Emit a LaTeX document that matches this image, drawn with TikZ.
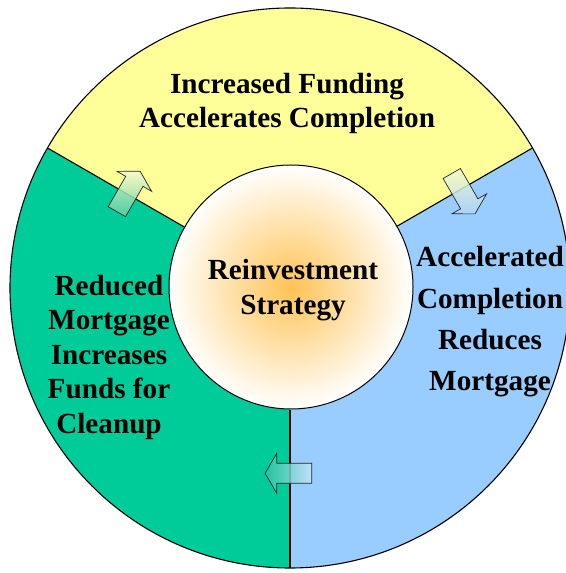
\documentclass[tikz,border=0pt]{standalone}
\usepackage{fontspec}
\setmainfont{Liberation Serif}
\definecolor{yellowsec}{RGB}{255,255,153}
\definecolor{bluesec}{RGB}{153,204,255}
\definecolor{greensec}{RGB}{0,204,153}
\definecolor{hubglow}{RGB}{255,195,85}
\definecolor{agreen}{RGB}{90,205,160}
\definecolor{ayellow}{RGB}{246,250,205}
\definecolor{ablue}{RGB}{175,212,246}
\definecolor{ateal}{RGB}{40,195,160}
\definecolor{apale}{RGB}{200,228,250}
\newcommand\flowarrow[3]{%
  \shade[flow, #3, shift={#1}, rotate=#2]
    (-23.3,-10) -- (11.7,-10) -- (11.7,-20) -- (23.3,0) -- (11.7,20) -- (11.7,10) -- (-23.3,10) -- cycle;}
\begin{document}
\begin{tikzpicture}[x=1pt,y=1pt,
  lbl/.style={font=\bfseries\fontsize{29.2}{34}\selectfont, anchor=base, inner sep=0pt},
  ring/.style={draw=black, line width=1.1pt},
  flow/.style={draw=black!85, line width=0.7pt, fill opacity=0.85}]
\useasboundingbox (0,0) rectangle (565,573);
\coordinate (C) at (290,285);
% sectors
\fill[yellowsec] (C) -- ++(30:280) arc[start angle=30,end angle=150,radius=280] -- cycle;
\fill[bluesec] (C) -- ++(-90:280) arc[start angle=-90,end angle=30,radius=280] -- cycle;
\fill[greensec] (C) -- ++(150:280) arc[start angle=150,end angle=270,radius=280] -- cycle;
\draw[ring] (C) circle[radius=280];
\foreach \a in {30,150,270} \draw[ring] (C) ++(\a:122) -- ++(\a:158);
% hub
\node[circle, draw=black, line width=1pt, minimum size=244pt, inner sep=0pt,
      inner color=hubglow, outer color=white] (hub) at (291,286) {};
% arrows
\flowarrow{(128.5,381.5)}{60}{bottom color=agreen, top color=ayellow}
\flowarrow{(463.4,379.3)}{-60}{top color=ayellow, bottom color=ablue}
\flowarrow{(288.4,99.7)}{180}{left color=ateal, right color=apale}
% texts
\node[lbl] (t1) at (287,479) {Increased Funding};
\node[lbl] (t2) at (287,445) {Accelerates Completion};
\node[lbl] (c1) at (293,293) {Reinvestment};
\node[lbl] (c2) at (293,258) {Strategy};
\node[lbl] (r1) at (490,306) {Accelerated};
\node[lbl] (r2) at (490,264) {Completion};
\node[lbl] (r3) at (490,223) {Reduces};
\node[lbl] (r4) at (490,182) {Mortgage};
\node[lbl] (l1) at (109,277) {Reduced};
\node[lbl] (l2) at (109,243) {Mortgage};
\node[lbl] (l3) at (109,208) {Increases};
\node[lbl] (l4) at (109,174) {Funds for};
\node[lbl] (l5) at (109,139) {Cleanup};
\end{tikzpicture}
\end{document}
